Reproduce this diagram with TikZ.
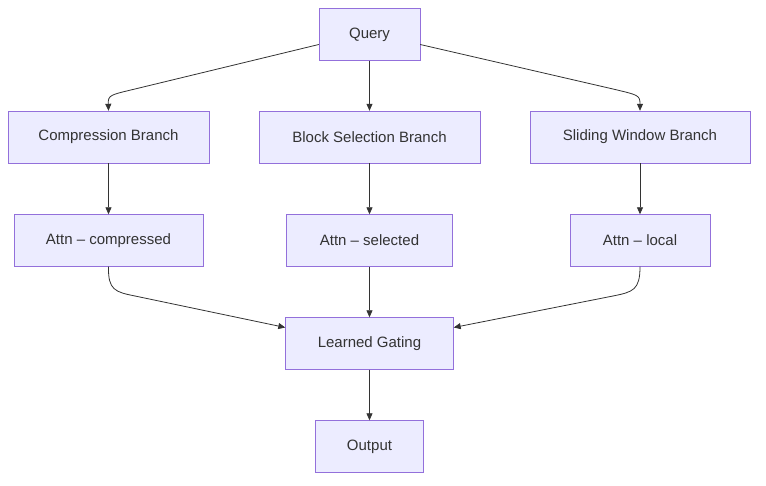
\documentclass[tikz,border=0pt]{standalone}
\usepackage{fontspec}
\setmainfont{Liberation Sans}
\usetikzlibrary{arrows.meta, positioning}
\definecolor{boxfill}{HTML}{ECECFF}
\definecolor{boxline}{HTML}{9370DB}
\definecolor{linecolor}{HTML}{333333}
\begin{document}
\begin{tikzpicture}[
    x=1pt, y=-1pt,
    >={Triangle[length=7pt, width=6pt]},
    box/.style={rectangle, draw=boxline, fill=boxfill, minimum height=52pt, align=center, font=\fontsize{15}{18}\selectfont, text=linecolor},
    arrow/.style={->, draw=linecolor, line width=0.8pt}
]
\useasboundingbox (0,0) rectangle (766,486);

% Nodes
\node[box, minimum width=101pt] (query) at (369.5,34.5) {Query};
\node[box, minimum width=201pt] (comp) at (108.5,137) {Compression Branch};
\node[box, minimum width=221pt] (sel) at (369.5,137) {Block Selection Branch};
\node[box, minimum width=220pt] (win) at (640,137) {Sliding Window Branch};
\node[box, minimum width=189pt] (attc) at (108.5,240.5) {Attn – compressed};
\node[box, minimum width=166pt] (atts) at (369.5,240.5) {Attn – selected};
\node[box, minimum width=140pt] (attl) at (640,240.5) {Attn – local};
\node[box, minimum width=168pt] (gate) at (369.5,343.5) {Learned Gating};
\node[box, minimum width=108pt] (out) at (369.5,446.5) {Output};

% Connectors
\draw[arrow] ([yshift=-10pt]query.west) -- (135,89) .. controls (110,95) and (108,95) .. (comp.north);
\draw[arrow] (query) -- (sel);
\draw[arrow] ([yshift=-10pt]query.east) -- (613,89) .. controls (638,95) and (640,95) .. (win.north);
\draw[arrow] (comp) -- (attc);
\draw[arrow] (sel) -- (atts);
\draw[arrow] (win) -- (attl);
\draw[arrow] (attc.south) .. controls (108,290) and (115,292) .. (135,296) -- ([yshift=16pt]gate.west);
\draw[arrow] (atts) -- (gate);
\draw[arrow] (attl.south) .. controls (640,290) and (633,292) .. (613,296) -- ([yshift=16pt]gate.east);
\draw[arrow] (gate) -- (out);
\end{tikzpicture}
\end{document}
